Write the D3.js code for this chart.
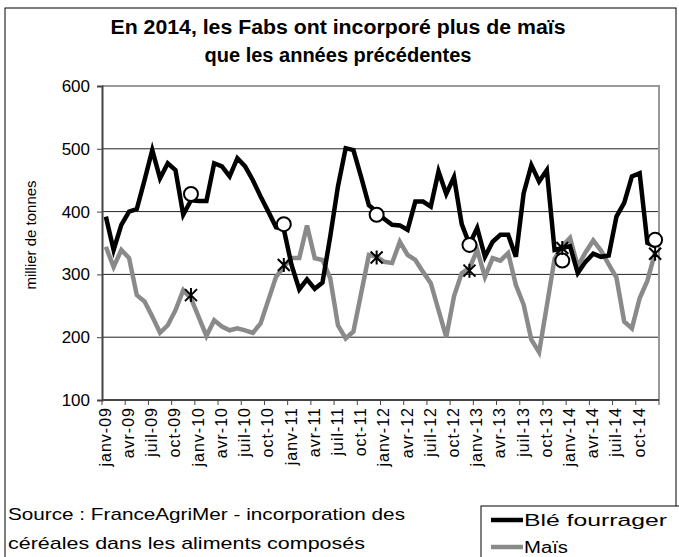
<!DOCTYPE html>
<html>
<head>
<meta charset="utf-8">
<script src="https://cdn.jsdelivr.net/npm/d3@7"></script>
<style>
  body { margin: 0; background: #fff; }
  text { font-family: "Liberation Sans", Arial, sans-serif; }
</style>
</head>
<body>
<div id="chart-area"></div>
<script>
// monthly data, janv-09 .. déc-14
const years = ["09", "10", "11", "12", "13", "14"]
const monthNames = ["janv", "févr", "mars", "avr", "mai", "juin", "juil", "août", "sept", "oct", "nov", "déc"]
const months = years.flatMap(y => monthNames.map(m => m + "-" + y))

const ble = [
  392, 339, 379, 400, 404, 450, 498, 453, 477, 466, 395, 418,
  417, 417, 477, 472, 456, 485, 472, 450, 424, 400, 375, 372,
  315, 276, 292, 277, 287, 360, 440, 501, 498, 455, 410, 400,
  388, 379, 378, 371, 416, 416, 408, 464, 428, 455, 380, 348,
  374, 328, 352, 363, 363, 328, 429, 474, 448, 466, 339, 342,
  345, 302, 320, 333, 328, 330, 392, 414, 456, 461, 350, 345
]
const mais = [
  344, 312, 339, 326, 267, 257, 233, 207, 219, 243, 275, 262,
  232, 202, 227, 217, 211, 214, 211, 207, 222, 259, 296, 312,
  326, 326, 378, 326, 323, 294, 219, 198, 209, 270, 331, 328,
  320, 318, 352, 331, 323, 304, 286, 243, 200, 265, 302, 310,
  339, 296, 326, 322, 334, 283, 252, 196, 176, 250, 325, 345,
  358, 313, 335, 354, 338, 316, 295, 225, 214, 262, 290, 335
]
// annual averages, plotted on december
const bleMoy = [428, 380, 395, 347, 322, 355]
const maisMoy = [267, 315, 327, 306, 342, 333]
const moyMonths = years.map(y => "déc-" + y)

const yTicks = [100, 200, 300, 400, 500, 600]

const W = 679, H = 557
const MARGIN = { LEFT: 102, RIGHT: 20, TOP: 86, BOTTOM: 157 }
const WIDTH = W - MARGIN.LEFT - MARGIN.RIGHT
const HEIGHT = H - MARGIN.TOP - MARGIN.BOTTOM

const svg = d3.select("#chart-area").append("svg")
  .attr("width", W)
  .attr("height", H)

// outer frame
svg.append("rect")
  .attr("x", 5).attr("y", 8)
  .attr("width", 671).attr("height", 600)
  .attr("fill", "none").attr("stroke", "#000").attr("stroke-width", 1)

// title
const title = ["En 2014, les Fabs ont incorporé plus de maïs", "que les années précédentes"]
const titleLen = [455, 267]
svg.selectAll(".title").data(title).enter().append("text")
  .attr("class", "title")
  .attr("x", 338)
  .attr("y", (d, i) => 34 + i * 28)
  .attr("text-anchor", "middle")
  .attr("font-size", "20px")
  .attr("font-weight", "bold")
  .attr("textLength", (d, i) => titleLen[i])
  .attr("lengthAdjust", "spacingAndGlyphs")
  .text(d => d)

const g = svg.append("g")
  .attr("transform", `translate(${MARGIN.LEFT}, ${MARGIN.TOP})`)

const x = d3.scaleBand()
  .domain(months)
  .range([0, WIDTH])
  .paddingInner(0)
  .paddingOuter(0)
const xc = d => x(d) + x.bandwidth() / 2

const y = d3.scaleLinear()
  .domain([100, 600])
  .range([HEIGHT, 0])

// gridlines
g.selectAll(".grid").data(yTicks.slice(1, -1)).enter().append("line")
  .attr("x1", 0).attr("x2", WIDTH)
  .attr("y1", d => y(d)).attr("y2", d => y(d))
  .attr("stroke", "#222").attr("stroke-width", 1)

// plot frame (top and right)
g.append("path")
  .attr("d", `M0,${y(600)}H${WIDTH}V${HEIGHT}`)
  .attr("fill", "none").attr("stroke", "#999").attr("stroke-width", 2)

// Y axis
const yAxisCall = d3.axisLeft(y).tickValues(yTicks).tickSize(5).tickPadding(7)
const yAx = g.append("g").call(yAxisCall)
yAx.select(".domain").attr("stroke", "#444").attr("stroke-width", 2)
yAx.selectAll(".tick line").attr("stroke", "#444")
yAx.selectAll("text").attr("font-size", "17px").attr("fill", "#000")
  .attr("font-family", "Liberation Sans, Arial, sans-serif")

// Y label
g.append("text")
  .attr("x", -(HEIGHT / 2) + 8)
  .attr("y", -66)
  .attr("font-size", "15px")
  .attr("text-anchor", "middle")
  .attr("transform", "rotate(-90)")
  .text("millier de tonnes")

// X axis: tick marks at band edges every 3 months
const tickMonths = months.filter((d, i) => i % 3 === 0)
const xAx = g.append("g").attr("transform", `translate(0, ${HEIGHT})`)
xAx.append("line")
  .attr("x1", 0).attr("x2", WIDTH)
  .attr("stroke", "#444").attr("stroke-width", 2)
xAx.selectAll(".xt").data(tickMonths.concat([null])).enter().append("line")
  .attr("x1", d => d === null ? WIDTH : x(d))
  .attr("x2", d => d === null ? WIDTH : x(d))
  .attr("y1", 0).attr("y2", 5)
  .attr("stroke", "#444")
xAx.selectAll(".xl").data(tickMonths).enter().append("text")
  .attr("transform", d => `translate(${xc(d) + 5}, 7) rotate(-90)`)
  .attr("text-anchor", "end")
  .attr("font-size", "16px")
  .attr("letter-spacing", "1px")
  .text(d => d)

// lines
const line = d3.line()
  .x((d, i) => xc(months[i]))
  .y(d => y(d))

g.append("path").datum(mais)
  .attr("d", line)
  .attr("fill", "none").attr("stroke", "#8a8a8a").attr("stroke-width", 4.5)
  .attr("stroke-linejoin", "miter")

g.append("path").datum(ble)
  .attr("d", line)
  .attr("fill", "none").attr("stroke", "#000").attr("stroke-width", 4.5)
  .attr("stroke-linejoin", "miter")

// annual mean markers
g.selectAll(".circ").data(bleMoy).enter().append("circle")
  .attr("cx", (d, i) => xc(moyMonths[i]))
  .attr("cy", d => y(d))
  .attr("r", 7)
  .attr("fill", "#fff").attr("stroke", "#000").attr("stroke-width", 2)

const star = "M-6,-6L6,6M-6,6L6,-6M0,-7V7"
g.selectAll(".star").data(maisMoy).enter().append("path")
  .attr("transform", (d, i) => `translate(${xc(moyMonths[i])}, ${y(d)})`)
  .attr("d", star)
  .attr("stroke", "#000").attr("stroke-width", 2).attr("fill", "none")

// source
const source = ["Source : FranceAgriMer - incorporation des", "céréales dans les aliments composés"]
const sourceLen = [397, 357]
svg.selectAll(".src").data(source).enter().append("text")
  .attr("x", 8)
  .attr("y", (d, i) => 520 + i * 29)
  .attr("font-size", "17px")
  .attr("textLength", (d, i) => sourceLen[i])
  .attr("lengthAdjust", "spacingAndGlyphs")
  .text(d => d)

// legend
const legend = svg.append("g").attr("transform", "translate(481, 506)")
legend.append("rect")
  .attr("width", 210).attr("height", 70)
  .attr("fill", "#fff").attr("stroke", "#000")
const legItems = [{ name: "Blé fourrager", color: "#000", len: 143 }, { name: "Maïs", color: "#8a8a8a", len: 44 }]
legItems.forEach((d, i) => {
  legend.append("line")
    .attr("x1", 10).attr("x2", 42)
    .attr("y1", 14 + i * 27).attr("y2", 14 + i * 27)
    .attr("stroke", d.color).attr("stroke-width", 4.5)
  legend.append("text")
    .attr("x", 43).attr("y", 20 + i * 27)
    .attr("font-size", "16px")
    .attr("textLength", d.len)
    .attr("lengthAdjust", "spacingAndGlyphs")
    .text(d.name)
})
</script>
</body>
</html>
